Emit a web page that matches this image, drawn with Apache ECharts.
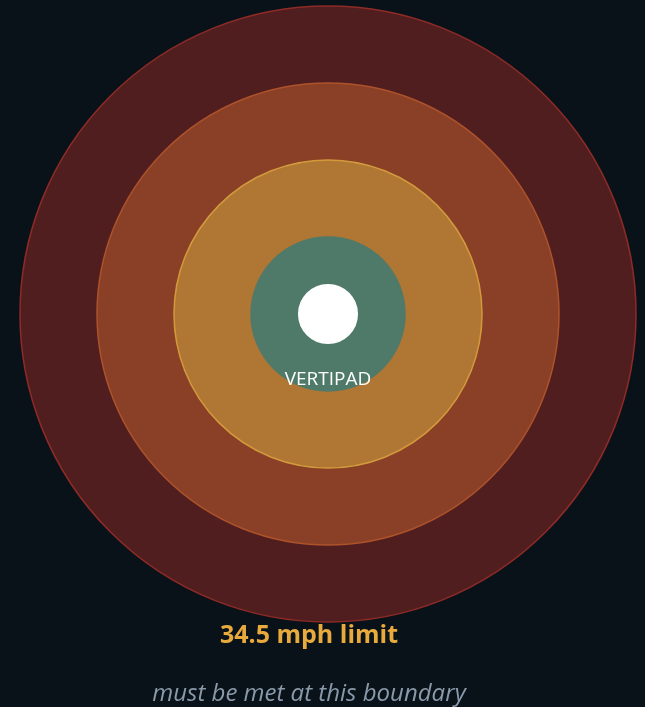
<!DOCTYPE html>
<html>
<head>
<meta charset="utf-8">
<style>
  html, body { margin: 0; padding: 0; background: #0a1219; }
  #chart { width: 645px; height: 707px; }
</style>
<script src="https://cdn.jsdelivr.net/npm/echarts@6/dist/echarts.min.js"></script>
</head>
<body>
<div id="chart"></div>
<script>
// zone radii (in chart units), outer to inner
var zoneNames = ['outer', 'middle', 'inner', 'pad', 'center'];
var zoneRadius = [4, 3, 2, 1, 0.38];
var zoneFill = ['#511e1f', '#8a4026', '#b07633', '#4f7a6a', '#ffffff'];
var zoneBorder = ['#8e2b27', '#ad522b', '#d39a3d', '#4f7a6a', '#ffffff'];
var padLabel = 'VERTIPAD';
var limitText = '34.5 mph limit';
var noteText = 'must be met at this boundary';

var chart = echarts.init(document.getElementById('chart'));

var data = [];
for (var i = 0; i < zoneRadius.length; i++) {
  data.push({
    name: zoneNames[i],
    value: [0, 0, zoneRadius[i]],
    itemStyle: { color: zoneFill[i], borderColor: zoneBorder[i] }
  });
}

chart.setOption({
  backgroundColor: '#0a1219',
  animation: false,
  grid: { left: 20, top: 6, width: 616, height: 616 },
  xAxis: { type: 'value', min: -4, max: 4, show: false },
  yAxis: { type: 'value', min: -4, max: 4, show: false },
  series: [{
    type: 'custom',
    coordinateSystem: 'cartesian2d',
    data: data,
    renderItem: function(params, api) {
      var c = api.coord([api.value(0), api.value(1)]);
      var e = api.coord([api.value(0) + api.value(2), api.value(1)]);
      var item = data[params.dataIndex];
      return {
        type: 'circle',
        shape: { cx: c[0], cy: c[1], r: e[0] - c[0] },
        style: {
          fill: item.itemStyle.color,
          stroke: item.itemStyle.borderColor,
          lineWidth: 1.5
        }
      };
    }
  }],
  graphic: [{
    type: 'text',
    x: 328, y: 380,
    style: {
      text: padLabel,
      fill: '#ffffff',
      font: '19px "Open Sans"',
      textAlign: 'center',
      textVerticalAlign: 'middle'
    },
    z: 10
  }, {
    type: 'text',
    x: 309, y: 636,
    style: {
      text: limitText,
      fill: '#e8a93d',
      font: 'bold 25px "Open Sans"',
      textAlign: 'center',
      textVerticalAlign: 'middle'
    }
  }, {
    type: 'text',
    x: 309, y: 694,
    style: {
      text: noteText,
      fill: '#8a9aab',
      font: 'italic 24px "Open Sans"',
      textAlign: 'center',
      textVerticalAlign: 'middle'
    }
  }]
});
</script>
</body>
</html>
